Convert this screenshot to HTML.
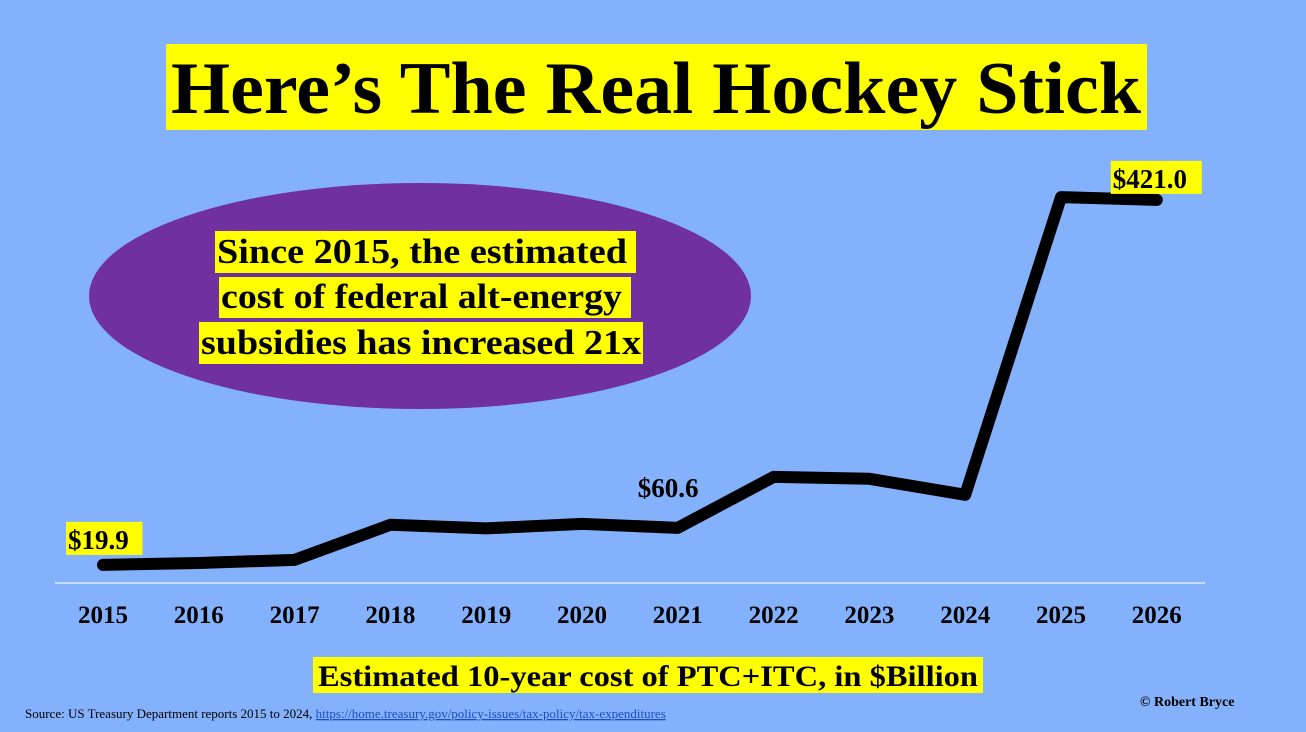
<!DOCTYPE html>
<html><head><meta charset="utf-8"><style>
html,body{margin:0;padding:0;background:#84b1fb;}
svg{display:block;font-family:"Liberation Serif",serif;}
</style></head><body>
<svg width="1306" height="732" viewBox="0 0 1306 732">
<rect width="1306" height="732" fill="#84b1fb"/>
<rect x="166" y="44" width="981" height="86" fill="#ffff00"/>
<text x="656" y="113" text-anchor="middle" font-size="74" font-weight="bold" textLength="970" lengthAdjust="spacingAndGlyphs">Here’s The Real Hockey Stick</text>
<ellipse cx="420" cy="296" rx="331" ry="113" fill="#7030a0"/>
<rect x="215" y="231" width="421" height="42" fill="#ffff00"/>
<rect x="219" y="277" width="412" height="41" fill="#ffff00"/>
<rect x="199" y="322" width="444" height="42" fill="#ffff00"/>
<g font-size="35" font-weight="bold">
<text x="217" y="263" textLength="410" lengthAdjust="spacingAndGlyphs">Since 2015, the estimated</text>
<text x="221" y="308" textLength="401" lengthAdjust="spacingAndGlyphs">cost of federal alt-energy</text>
<text x="201" y="354" textLength="440" lengthAdjust="spacingAndGlyphs">subsidies has increased 21x</text>
</g>
<line x1="55" y1="583" x2="1205" y2="583" stroke="#dce8fb" stroke-width="1.5"/>
<g id="marks"></g>
<rect x="313" y="657" width="670" height="36" fill="#ffff00"/>
<text x="648" y="686" text-anchor="middle" font-size="30" font-weight="bold" textLength="660" lengthAdjust="spacingAndGlyphs">Estimated 10-year cost of PTC+ITC, in $Billion</text>
<text x="25" y="718" font-size="13">Source: US Treasury Department  reports 2015 to 2024, <tspan fill="#1a4fc0" text-decoration="underline">https://home.treasury.gov/policy-issues/tax-policy/tax-expenditures</tspan></text>
<text x="1140" y="706" font-size="14" font-weight="bold">© Robert Bryce</text>
</svg>
<script>
const years = ["2015","2016","2017","2018","2019","2020","2021","2022","2023","2024","2025","2026"];
const costs = [19.9, 22, 25.4, 64, 60, 65, 60.6, 116.6, 114.5, 96.9, 424, 421.0];
const labeled = [{i:0,text:"$19.9",box:true,dx:-35,dy:-16},{i:6,text:"$60.6",box:false,dx:-40,dy:-31},{i:11,text:"$421.0",box:true,dx:-44,dy:-12}];
const NS="http://www.w3.org/2000/svg";
const g=document.getElementById('marks');
function xs(i){return 103+i*95.8;}
function ys(v){return 583-v*0.91;}
years.forEach((y,i)=>{
  const t=document.createElementNS(NS,'text');
  
  
  t.setAttribute('x',xs(i));t.setAttribute('y',623);
  t.setAttribute('text-anchor','middle');t.setAttribute('font-size','25');t.setAttribute('font-weight','bold');
  t.textContent=y;g.appendChild(t);
});
const p=document.createElementNS(NS,'polyline');


p.setAttribute('points',costs.map((v,i)=>xs(i)+','+ys(v)).join(' '));
p.setAttribute('fill','none');p.setAttribute('stroke','#000');p.setAttribute('stroke-width','12');
p.setAttribute('stroke-linejoin','round');p.setAttribute('stroke-linecap','round');
g.appendChild(p);
labeled.forEach(l=>{
  const x=xs(l.i)+l.dx, y=ys(costs[l.i])+l.dy;
  const w=l.text.length*14.5;
  if(l.box){
    const r=document.createElementNS(NS,'rect');
    
    
    r.setAttribute('x',x-2);r.setAttribute('y',y-27);r.setAttribute('width',w+4);r.setAttribute('height',33);r.setAttribute('fill','#ffff00');
    g.appendChild(r);
  }
  const t=document.createElementNS(NS,'text');
  
  
  t.setAttribute('x',x);t.setAttribute('y',y);t.setAttribute('font-size','27');t.setAttribute('font-weight','bold');
  t.textContent=l.text;g.appendChild(t);
});
</script>
</body></html>
